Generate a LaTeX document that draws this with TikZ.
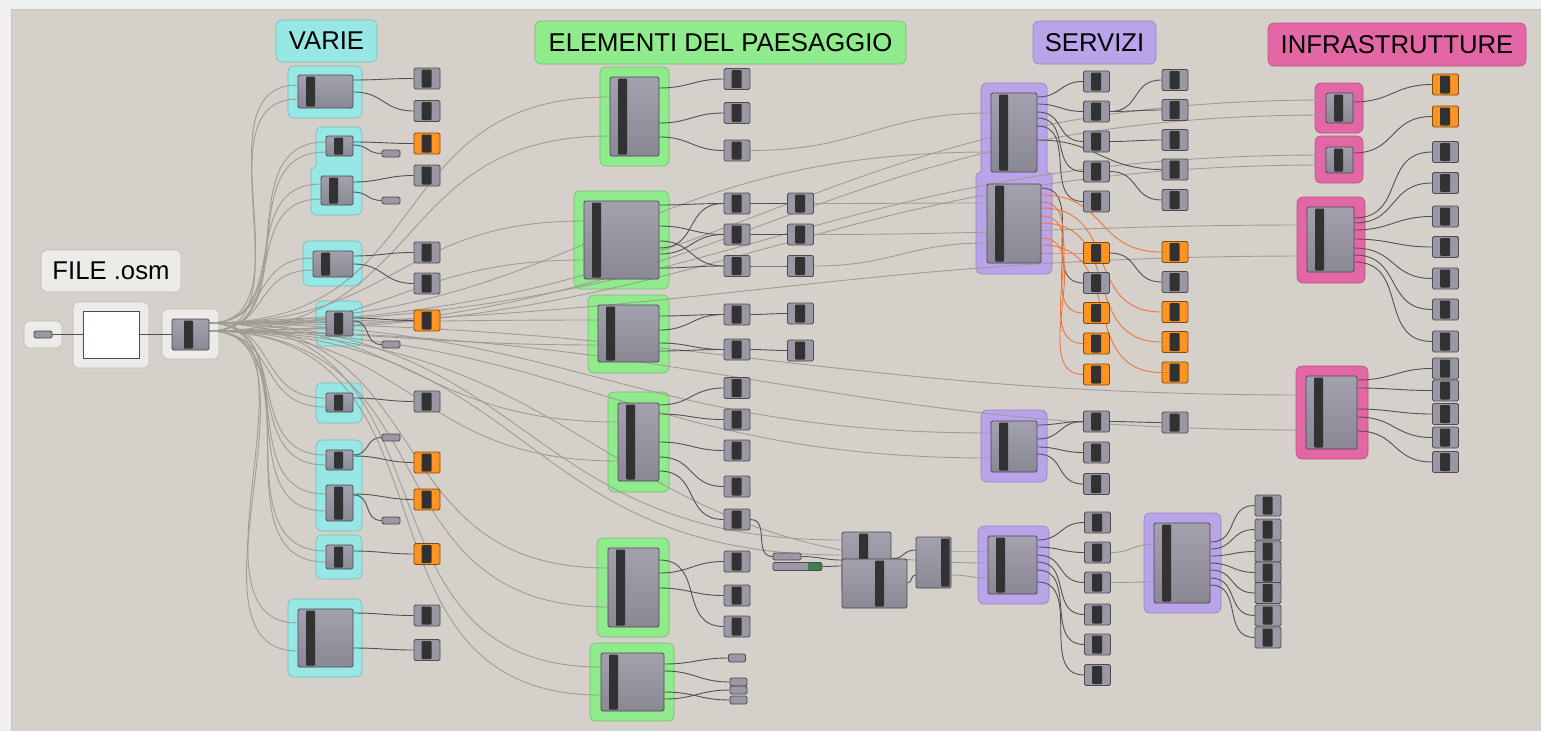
\documentclass[tikz,border=0pt]{standalone}
\usepackage{fontspec}
\setmainfont{Liberation Sans}
\usetikzlibrary{calc}

\definecolor{bgframe}{HTML}{F0F0F0}
\definecolor{bgcanvas}{HTML}{D5D1CA}
\definecolor{cyangrp}{HTML}{97E7E4}
\definecolor{greengrp}{HTML}{90EB8C}
\definecolor{purplegrp}{HTML}{B9A4EA}
\definecolor{pinkgrp}{HTML}{E467A5}
\definecolor{labelgrp}{HTML}{ECEBE8}
\definecolor{comptop}{HTML}{A3A1AD}
\definecolor{compbot}{HTML}{8A8894}
\definecolor{compline}{HTML}{4A4A50}
\definecolor{paramgray}{HTML}{9A98A4}
\definecolor{bardark}{HTML}{323232}
\definecolor{paramorange}{HTML}{FF9422}
\definecolor{sliderknob}{HTML}{3F7D4A}
\definecolor{wirefaint}{HTML}{A09B95}
\definecolor{wiredark}{HTML}{525252}
\definecolor{wireorange}{HTML}{EB7440}

\pgfdeclarelayer{grouplayer}
\pgfdeclarelayer{wirelayer}
\pgfsetlayers{grouplayer,wirelayer,main}

\tikzset{
  grp/.style={draw=#1!80!black, line width=0.6pt, fill=#1, rounded corners=6pt, inner sep=0pt},
  grplabel/.style={grp=#1, font=\fontsize{25.7}{30}\selectfont},
  comp/.style={draw=compline, line width=0.8pt, top color=comptop, bottom color=compbot,
    rounded corners=1.5pt, inner sep=0pt,
    path picture={\fill[bardark,rounded corners=1pt]
      ([xshift=#1,yshift=-1.5pt]path picture bounding box.north west) rectangle
      ([xshift=#1+9pt,yshift=1.5pt]path picture bounding box.south west);}},
  comp/.default=8pt,
  compr/.style={draw=compline, line width=0.8pt, top color=comptop, bottom color=compbot,
    rounded corners=1.5pt, inner sep=0pt,
    path picture={\fill[bardark,rounded corners=1pt]
      ([xshift=-10pt,yshift=-1.5pt]path picture bounding box.north east) rectangle
      ([xshift=-1.5pt,yshift=1.5pt]path picture bounding box.south east);}},
  param/.style={draw=#1!50!black, line width=0.8pt, fill=#1, rounded corners=1.5pt,
    minimum width=26pt, minimum height=21pt, inner sep=0pt,
    path picture={\fill[bardark,rounded corners=1pt]
      ([xshift=-5.5pt,yshift=-1.5pt]path picture bounding box.north) rectangle
      ([xshift=4.5pt,yshift=1.5pt]path picture bounding box.south);}},
  param/.default=paramgray,
  pill/.style={draw=compline, line width=0.8pt, fill=paramgray, rounded corners=1.5pt,
    minimum width=18pt, minimum height=7pt, inner sep=0pt},
  wfaint/.style={draw=wirefaint, line width=0.9pt},
  wdark/.style={draw=wiredark, line width=0.9pt},
  worange/.style={draw=wireorange, line width=0.9pt}
}

% grasshopper-like wire: horizontal tangents at both ends
\newcommand\wire[3]{\draw[#1] let \p1=#2, \p2=#3,
  \n1={0.42*abs(\x2-\x1)+0.28*abs(\y2-\y1)} in
  (\p1) .. controls (\x1+\n1,\y1) and (\x2-\n1,\y2) .. (\p2);}

\begin{document}
\begin{tikzpicture}[x=1pt,y=-1pt]
\useasboundingbox (0,0) rectangle (1541,731);

\begin{pgfonlayer}{grouplayer}
\fill[bgframe] (0,0) rectangle (1541,731);
\fill[bgcanvas] (11,9) rectangle (1541,731);
\draw[black!22, line width=0.6pt] (11,731) -- (11,9) -- (1541,9);

% file .osm
\draw[grp=labelgrp] (24,321) rectangle (62,348);
\draw[grp=labelgrp] (73,302) rectangle (149,368);
\draw[grp=labelgrp] (162,309) rectangle (219,359);

% varie
\draw[grp=cyangrp] (288,66) rectangle (362,118);
\draw[grp=cyangrp] (339,127) -- (362,127) -- (362,215) -- (311,215) [rounded corners=2.5pt] -- (311,168) -- (316,168) [rounded corners=6pt] -- (316,127) -- cycle;
\draw[grp=cyangrp] (303,241) rectangle (362,286);
\draw[grp=cyangrp] (316,301) rectangle (362,346);
\draw[grp=cyangrp] (316,383) rectangle (362,423);
\draw[grp=cyangrp] (316,440) rectangle (362,531);
\draw[grp=cyangrp] (316,535) rectangle (362,579);
\draw[grp=cyangrp] (288,599) rectangle (362,677);

% elementi del paesaggio
\draw[grp=greengrp] (600,67) rectangle (669,166);
\draw[grp=greengrp] (574,191) rectangle (669,289);
\draw[grp=greengrp] (588,295) rectangle (669,373);
\draw[grp=greengrp] (608,392) rectangle (669,492);
\draw[grp=greengrp] (597,538) rectangle (669,637);
\draw[grp=greengrp] (590,643) rectangle (674,721);

% servizi
\draw[grp=purplegrp] (1014,83) -- (1047,83) [rounded corners=2.5pt] -- (1047,173) -- (1052,173) [rounded corners=6pt] -- (1052,274) -- (976,274) [rounded corners=2.5pt] -- (976,173) -- (981,173) [rounded corners=6pt] -- (981,83) -- cycle;
\draw[grp=purplegrp] (981,410) rectangle (1047,482);
\draw[grp=purplegrp] (978,526) rectangle (1049,604);
\draw[grp=purplegrp] (1144,513) rectangle (1221,613);

% infrastrutture
\draw[grp=pinkgrp] (1315,83) rectangle (1363,133);
\draw[grp=pinkgrp] (1315,136) rectangle (1363,183);
\draw[grp=pinkgrp] (1297,197) rectangle (1365,283);
\draw[grp=pinkgrp] (1296,366) rectangle (1368,459);
\end{pgfonlayer}

% titles
\node[grplabel=cyangrp, minimum width=101pt, minimum height=42pt] (varie) at (326.5,41) {VARIE};
\node[grplabel=greengrp, minimum width=371pt, minimum height=43pt] (elementi) at (720.5,42.5) {ELEMENTI DEL PAESAGGIO};
\node[grplabel=purplegrp, minimum width=123pt, minimum height=43pt] (servizi) at (1094.5,42.5) {SERVIZI};
\node[grplabel=pinkgrp, minimum width=258pt, minimum height=43pt] (infra) at (1397,44.5) {INFRASTRUTTURE};
\node[grplabel=labelgrp, minimum width=140pt, minimum height=42pt] (fileosm) at (111,271) {FILE .osm};

% file input
\node[pill] (p0) at (43,334.5) {};
\node[draw=compline, line width=0.8pt, fill=white, minimum width=56pt, minimum height=47pt, inner sep=0pt] (panel) at (111,334.5) {};
\node[comp=12pt, minimum width=37pt, minimum height=31pt] (src) at (190.5,334.5) {};

% varie
\node[comp, minimum width=55pt, minimum height=33pt] (v1) at (325.5,91.5) {};
\node[comp, minimum width=27pt, minimum height=20pt] (v2) at (339.5,146) {};
\node[comp, minimum width=32pt, minimum height=29pt] (v3) at (337,190.5) {};
\node[comp, minimum width=40pt, minimum height=26pt] (v4) at (333,264) {};
\node[comp, minimum width=27pt, minimum height=25pt] (v5) at (339.5,323.5) {};
\node[comp, minimum width=27pt, minimum height=19pt] (v6) at (339.5,402.5) {};
\node[comp, minimum width=27pt, minimum height=20pt] (v7) at (339.5,460) {};
\node[comp, minimum width=27pt, minimum height=36pt] (v8) at (339.5,503) {};
\node[comp, minimum width=27pt, minimum height=24pt] (v9) at (339.5,557) {};
\node[comp, minimum width=55pt, minimum height=58pt] (v10) at (325.5,638) {};

\foreach \n/\y in {vp1a/78.5, vp1b/111, vp3/175.5, vp4a/252.5, vp4b/283.5, vp6/401.5, vp10a/615.5, vp10b/650}
  \node[param] (\n) at (427,\y) {};
\foreach \n/\y in {vo2/143.5, vo5/320.5, vo7/462.5, vo8/499.5, vo9/554}
  \node[param=paramorange] (\n) at (427,\y) {};
\foreach \n/\y in {vs2/153.5, vs3/200.5, vs5/344.5, vs7/437.5, vs8/520.5}
  \node[pill] (\n) at (391,\y) {};

% elementi del paesaggio
\node[comp, minimum width=49pt, minimum height=79pt] (e1) at (634.5,116.5) {};
\node[comp, minimum width=75pt, minimum height=78pt] (e2) at (621.5,240) {};
\node[comp, minimum width=61pt, minimum height=57pt] (e3) at (628.5,333.5) {};
\node[comp, minimum width=41pt, minimum height=78pt] (e4) at (638.5,442) {};
\node[comp, minimum width=51pt, minimum height=79pt] (e5) at (633.5,587.5) {};
\node[comp, minimum width=63pt, minimum height=58pt] (e6) at (632.5,682) {};

\foreach \n/\y in {ep1a/79, ep1b/113, ep1c/150.5, ep2a/203.5, ep2b/234.5, ep2c/266, ep3a/314.5, ep3b/349.5,
    ep4a/388, ep4b/419.5, ep4c/450.5, ep4d/486.5, ep4e/519.5, ep5a/561.5, ep5b/595.5, ep5c/626.5}
  \node[param] (\n) at (737,\y) {};
\foreach \n/\y in {eq2a/203.5, eq2b/234.5, eq2c/266, eq3a/313.5, eq3b/350.5}
  \node[param] (\n) at (800.5,\y) {};
\node[pill, minimum width=17pt, minimum height=8pt] (es6a) at (737,658) {};
\foreach \n/\y in {es6b/682, es6c/690, es6d/700}
  \node[pill, minimum width=17pt, minimum height=8pt] (\n) at (738.5,\y) {};

% middle
\node[pill, minimum width=28pt] (mp) at (787,556.5) {};
\node[pill, minimum width=49pt, minimum height=8pt,
  path picture={\fill[sliderknob] ([xshift=-14pt]path picture bounding box.north east) rectangle (path picture bounding box.south east);}] (ms) at (797.5,566.5) {};
\node[comp=17pt, minimum width=49pt, minimum height=58pt] (ca) at (866.5,561) {};
\node[comp=33pt, minimum width=65pt, minimum height=49pt] (cb) at (874.5,583.5) {};
\node[compr, minimum width=35pt, minimum height=51pt] (cc) at (933.5,562.5) {};

% servizi
\node[comp, minimum width=46pt, minimum height=79pt] (s1) at (1014,132.5) {};
\node[comp, minimum width=54pt, minimum height=79pt] (s2) at (1014,223.5) {};
\node[comp, minimum width=46pt, minimum height=51pt] (s3) at (1014,446.5) {};
\node[comp, minimum width=49pt, minimum height=58pt] (s4) at (1012.5,565) {};
\node[comp, minimum width=56pt, minimum height=80pt] (s5) at (1182,563) {};

\foreach \n/\y in {sa1/81.5, sa2/111.5, sa3/141.5, sa4/171.5, sa5/201.5, sg2/283, sc1/421.5, sc2/452.5, sc3/484}
  \node[param] (\n) at (1096.5,\y) {};
\foreach \n/\y in {so1/253, so3/313, so4/343.5, so5/374.5}
  \node[param=paramorange] (\n) at (1096.5,\y) {};
\foreach \n/\y in {sb1/80, sb2/110, sb3/140, sb4/169.5, sb5/200, tg2/282, sd1/422.5}
  \node[param] (\n) at (1175,\y) {};
\foreach \n/\y in {to1/252, to3/312, to4/342, to5/372.5}
  \node[param=paramorange] (\n) at (1175,\y) {};
\foreach \n/\y in {se1/522.5, se2/552.5, se3/582.5, se4/614.5, se5/644.5, se6/675}
  \node[param] (\n) at (1097.5,\y) {};
\foreach \n/\y in {sf1/505.5, sf2/529.5, sf3/551.5, sf4/572.5, sf5/593, sf6/615.5, sf7/637.5}
  \node[param] (\n) at (1268,\y) {};

% infrastrutture
\node[comp, minimum width=27pt, minimum height=30pt] (i1) at (1339.5,108) {};
\node[comp, minimum width=27pt, minimum height=26pt] (i2) at (1339.5,160) {};
\node[comp, minimum width=47pt, minimum height=65pt] (i3) at (1330.5,239.5) {};
\node[comp, minimum width=51pt, minimum height=73pt] (i4) at (1331.5,412.5) {};

\foreach \n/\y in {io1/84.5, io2/116.5}
  \node[param=paramorange] (\n) at (1445.5,\y) {};
\foreach \n/\y in {ic1/152, ic2/183, ic3/216.5, ic4/247, ic5/278.5, ic6/309.5, ic7/341.5,
    id1/368.5, id2/390.5, id3/414, id4/437.5, id5/462}
  \node[param] (\n) at (1445.5,\y) {};

\begin{pgfonlayer}{wirelayer}
% from the osm reader
\foreach \t/\ya/\yb in {v1/323/85, v1/331/99, v2/323/142, v2/331/152, v3/323/184, v3/331/199,
    v4/323/258, v4/331/270, v5/323/318, v5/331/329, v6/323/398, v6/331/407, v7/323/455, v7/331/465,
    v8/323/494, v8/331/511, v9/323/551, v9/331/562, v10/323/623, v10/331/651,
    e1/323/97, e1/331/136, e2/323/221, e2/331/260, e3/323/320, e3/331/345, e4/323/422, e4/331/461,
    e5/323/568, e5/331/607, e6/323/667, e6/331/695,
    s1/323/152, s3/323/433, s3/331/458, s4/331/563, ca/323/540, ca/331/555,
    i1/323/100, i1/331/115, i2/323/155, i2/331/165, i3/323/256, i4/323/395, i4/331/430}
  {\wire{wfaint}{(src.east |- 0,\ya)}{(\t.west |- 0,\yb)}}
\foreach \f/\t/\yb in {ep1c/s1/113, eq2a/s2/203, eq2b/i3/225, eq2c/s2/243}
  {\wire{wfaint}{(\f.east)}{(\t.west |- 0,\yb)}}

% file chain
\draw[wdark] (p0) -- (panel);
\draw[wdark] (panel) -- (src);

% outputs
\foreach \f/\ya/\t in {v1/80/vp1a, v1/92/vp1b, v2/142/vo2, v2/145/vs2, v3/182/vp3, v3/192/vs3,
    v4/256/vp4a, v4/264/vp4b, v5/318/vo5, v5/321/vs5, v6/398/vp6, v7/455/vs7, v7/456/vo7,
    v8/494/vo8, v8/495/vs8, v9/551/vo9, v10/613/vp10a, v10/648/vp10b,
    e1/88/ep1a, e1/123/ep1b, e1/137/ep1c,
    e2/205/ep2a, e2/226/ep2b, e2/241/ep2c, e2/248/ep2a, e2/254/ep2b, e2/268/ep2c,
    e3/316/ep3a, e3/330/ep3a, e3/343/ep3b, e3/351/ep3b,
    e4/405/ep4a, e4/414/ep4b, e4/442/ep4c, e4/457/ep4d, e4/471/ep4e,
    e5/560/ep5c, e5/573/ep5a, e5/588/ep5b,
    e6/664/es6a, e6/671/es6b, e6/692/es6d, e6/699/es6c,
    s1/97/sa1, s1/104/sa2, s1/112/sa3, s1/118/sa4, s1/126/sa5, s1/140/sb4, s2/188/sg2,
    s3/425/sc1, s3/439/sc1, s3/447/sc2, s3/454/sc3,
    s4/540/se1, s4/547/se2, s4/555/se3, s4/562/se4, s4/570/se5, s4/582/se6,
    s5/542/sf1, s5/549/sf2, s5/556/sf3, s5/563/sf4, s5/570/sf5, s5/578/sf6, s5/585/sf7,
    i1/102/io1, i2/153/io2,
    i3/218/ic1, i3/223/ic2, i3/230/ic3, i3/239/ic4, i3/248/ic5, i3/255/ic6, i3/262/ic7,
    i4/380/id1, i4/388/id2, i4/409/id3, i4/417/id4, i4/431/id5}
  {\wire{wdark}{(\f.east |- 0,\ya)}{(\t.west)}}

\foreach \f/\t in {ep2a/eq2a, ep2b/eq2b, ep2c/eq2c, ep3a/eq3a, ep3b/eq3b,
    sa2/sb1, sa2/sb2, sa3/sb3, sa4/sb5, so1/tg2, sc1/sd1, ep4e/mp}
  {\wire{wdark}{(\f.east)}{(\t.west)}}

\foreach \ya/\t in {195/to1, 202/so3, 208/to3, 216/so4, 223/to4, 238/so5, 245/to5, 253/so1}
  {\wire{worange}{(s2.east |- 0,\ya)}{(\t.west)}}

% middle cluster
\wire{wdark}{(mp.east)}{(ca.west |- 0,560)}
\wire{wdark}{(ms.east)}{(cb.west |- 0,566)}
\wire{wdark}{(ca.east |- 0,559)}{(cc.west |- 0,550)}
\wire{wdark}{(cb.east |- 0,583)}{(cc.west |- 0,575)}
\wire{wfaint}{(cc.east |- 0,551)}{(s4.west |- 0,551)}
\wire{wfaint}{(cc.east |- 0,575)}{(s4.west |- 0,578)}
\wire{wfaint}{(se2.east)}{(s5.west |- 0,544)}
\wire{wfaint}{(se3.east)}{(s5.west |- 0,582)}
\end{pgfonlayer}
\end{tikzpicture}
\end{document}
